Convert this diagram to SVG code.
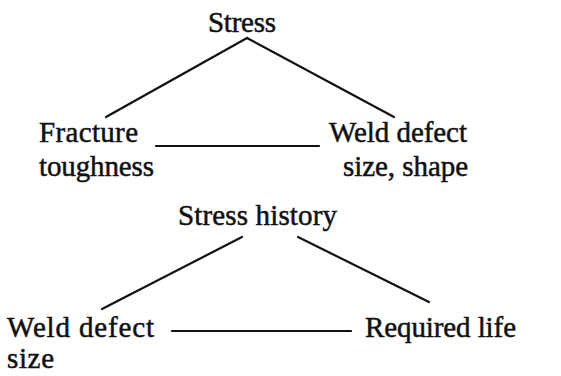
<svg xmlns="http://www.w3.org/2000/svg" width="561" height="376" viewBox="0 0 561 376">
<style>
text { font-family: "Liberation Serif", "Times New Roman", serif; font-size: 29px; fill: #111; stroke: #111; stroke-width: 0.5; }
.c { stroke: #111; stroke-width: 2.2; fill: none; stroke-linecap: round; }
</style>
<rect width="561" height="376" fill="#fff"/>
<g id="connectors">
<line class="c" x1="247" y1="38" x2="106" y2="117"/>
<line class="c" x1="247" y1="38" x2="394" y2="117"/>
<line class="c" x1="156" y1="146" x2="319" y2="146"/>
<line class="c" x1="242" y1="237" x2="102" y2="309"/>
<line class="c" x1="298" y1="237" x2="429" y2="302"/>
<line class="c" x1="172" y1="331" x2="351" y2="331"/>
</g>
<g id="stress"><text x="208" y="32" textLength="68">Stress</text></g>
<g id="fracture-toughness"><text x="39" y="142" textLength="99">Fracture</text><text x="39" y="176" textLength="115">toughness</text></g>
<g id="weld-defect-size-shape"><text x="329" y="142" textLength="138">Weld defect</text><text x="343" y="176" textLength="125">size, shape</text></g>
<g id="stress-history"><text x="178" y="225" textLength="159">Stress history</text></g>
<g id="weld-defect-size"><text x="7" y="337" textLength="147">Weld defect</text><text x="7" y="368" textLength="47">size</text></g>
<g id="required-life"><text x="365" y="337" textLength="151">Required life</text></g>
</svg>
